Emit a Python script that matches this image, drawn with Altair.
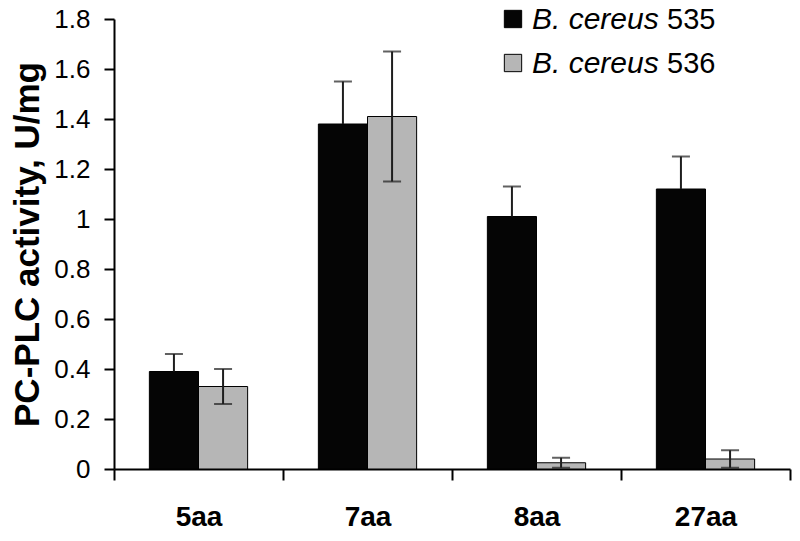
import altair as alt
import pandas as pd

categories = ["5aa", "7aa", "8aa", "27aa"]
species = "B. cereus"
strains = ["535", "536"]
series = [species + " " + s for s in strains]
vals_535 = [0.39, 1.38, 1.01, 1.12]
err_535 = [0.07, 0.17, 0.12, 0.13]
vals_536 = [0.33, 1.41, 0.025, 0.04]
err_536 = [0.07, 0.26, 0.02, 0.035]
colors = ["#050505", "#b6b6b6"]
y_ticks = [0, 0.2, 0.4, 0.6, 0.8, 1.0, 1.2, 1.4, 1.6, 1.8]
y_title = "PC-PLC activity, U/mg"

FONT = "Liberation Sans, Arial, sans-serif"

rows = []
for s, vals, errs in zip(series, [vals_535, vals_536], [err_535, err_536]):
    for c, v, e in zip(categories, vals, errs):
        rows.append(dict(cat=c, series=s, value=v, lo=max(v - e, 0), hi=v + e))
df = pd.DataFrame(rows)

x = alt.X(
    "cat:N", sort=categories,
    scale=alt.Scale(paddingInner=0, paddingOuter=0),
    axis=alt.Axis(title=None, tickBand="extent", labelAngle=0, labelFont=FONT,
                  labelFontSize=28, labelFontWeight="bold", labelColor="black",
                  labelPadding=23, tickSize=11, tickWidth=2, tickColor="black",
                  domainColor="black", domainWidth=2),
)
xo = alt.XOffset("series:N", sort=series,
                 scale=alt.Scale(paddingInner=0, paddingOuter=0.72))
yscale = alt.Scale(domain=[0, 1.8], nice=False)

bars = alt.Chart(df).mark_bar(stroke="black", strokeWidth=1).encode(
    x=x, xOffset=xo,
    y=alt.Y("value:Q", scale=yscale,
            axis=alt.Axis(values=y_ticks, format="~g", title=y_title,
                          titleFont=FONT, titleFontSize=35, titleFontWeight="bold",
                          titleColor="black", titlePadding=8,
                          labelFont=FONT, labelFontSize=26, labelColor="black",
                          labelPadding=14, tickSize=10, tickWidth=2, tickColor="black",
                          domainColor="black", domainWidth=2, grid=False)),
    color=alt.Color("series:N", scale=alt.Scale(domain=series, range=colors), legend=None),
)

ERR_COLOR = "#1e1e1e"
err_up = alt.Chart(df).mark_rule(color=ERR_COLOR, strokeWidth=2).encode(
    x=x, xOffset=xo, y=alt.Y("value:Q", scale=yscale), y2="hi:Q")
cap_hi = alt.Chart(df).mark_tick(color=ERR_COLOR, thickness=2, size=18, orient="horizontal").encode(
    x=x, xOffset=xo, y=alt.Y("hi:Q", scale=yscale))
# lower halves are hidden behind the black bars; only the grey series shows them
gray_only = alt.datum.series == series[1]
err_dn = alt.Chart(df).transform_filter(gray_only).mark_rule(color=ERR_COLOR, strokeWidth=2).encode(
    x=x, xOffset=xo, y=alt.Y("lo:Q", scale=yscale), y2="value:Q")
cap_lo = alt.Chart(df).transform_filter(gray_only).mark_tick(
    color=ERR_COLOR, thickness=2, size=18, orient="horizontal").encode(
    x=x, xOffset=xo, y=alt.Y("lo:Q", scale=yscale))

layers = [bars, err_up, cap_hi, err_dn, cap_lo]
leg_df = pd.DataFrame({"species": [species] * 2, "strain": strains, "series": series})
for i, (s, col) in enumerate(zip(strains, colors)):
    yy = 0 + 44 * i
    d = leg_df[leg_df.strain == s]
    layers.append(alt.Chart(d).mark_square(size=300, color=col, stroke="black", strokeWidth=1, opacity=1)
                  .encode(x=alt.value(399), y=alt.value(yy)))
    layers.append(alt.Chart(d).mark_text(align="left", baseline="middle", font=FONT, fontSize=30,
                                         fontStyle="italic", color="black", dy=1)
                  .encode(x=alt.value(418), y=alt.value(yy), text="species:N"))
    layers.append(alt.Chart(d).mark_text(align="left", baseline="middle", font=FONT, fontSize=29,
                                         color="black", dy=1)
                  .encode(x=alt.value(553), y=alt.value(yy), text="strain:N"))

chart = alt.layer(*layers).properties(
    width=676, height=450,
    autosize=alt.AutoSizeParams(type="none"),
    padding={"left": 106, "top": 11, "right": 2, "bottom": 72},
    background="white",
).configure_view(stroke=None)

chart.save("out.html", embed_options={"renderer": "svg", "actions": False})
